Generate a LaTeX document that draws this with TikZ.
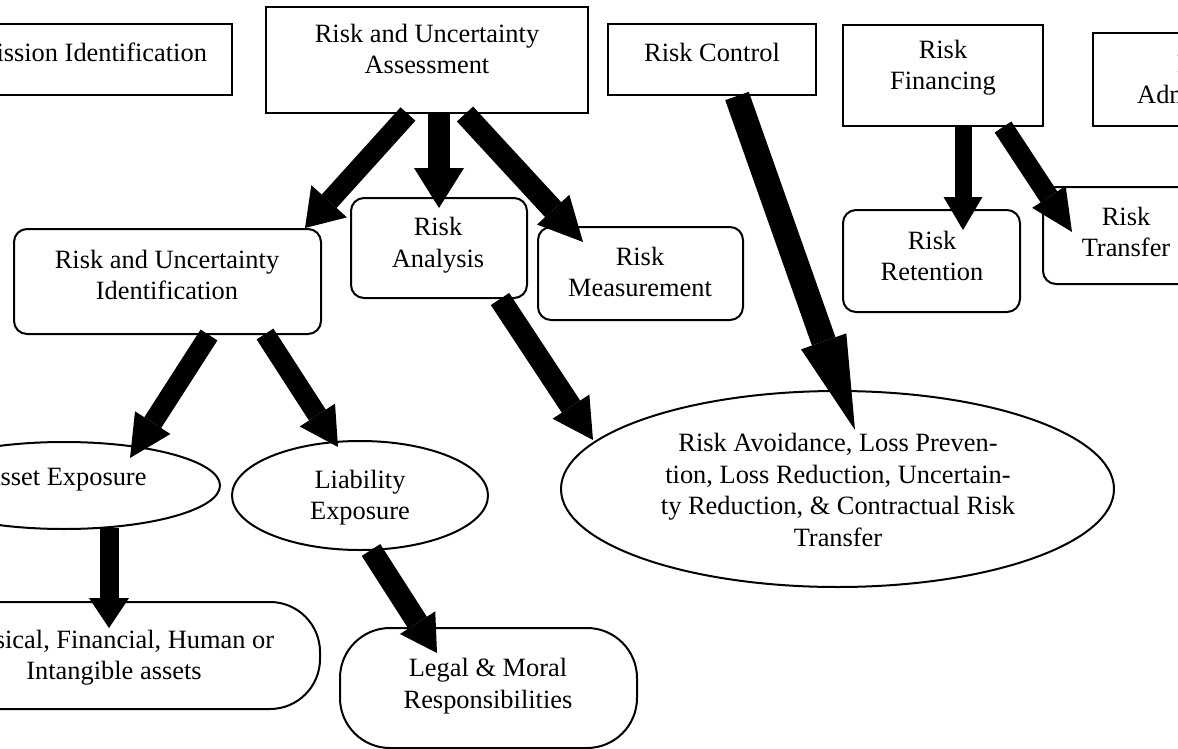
\documentclass[tikz,border=0pt]{standalone}
\usepackage{fontspec}
\setmainfont{Liberation Serif}
\usetikzlibrary{arrows.meta,calc,shapes.geometric}
\begin{document}
\begin{tikzpicture}[x=0.5pt,y=-0.5pt,
  rect/.style={draw,line width=1pt,inner sep=0pt,rectangle},
  rbox/.style={rect,rounded corners=6.5pt},
  pill/.style={rect,rounded corners=25pt},
  ell/.style={draw,line width=1pt,inner sep=0pt,ellipse},
  txt/.style={align=center,inner sep=0pt,font=\fontsize{13.2}{15.75}\selectfont},
  fat/.style n args={3}{line width=#1,arrows={-{Triangle[width=#2,length=#3,line width=0pt]}}}]
\useasboundingbox (0,0) rectangle (1178,749);
\clip (0,0) rectangle (1178,749);
\fill[white] (0,0) rectangle (1178,749);

% rectangles
\node[rect,minimum width=142pt,minimum height=35.5pt] (mission) at (90,59.5) {};
\node[txt] (missionT) at (90,52) {Mission Identification};
\node[rect,minimum width=161pt,minimum height=53pt] (assess) at (427,60) {};
\node[txt] (assessT) at (427,49) {Risk and Uncertainty\\Assessment};
\node[rect,minimum width=104pt,minimum height=35.5pt] (control) at (712,59.5) {};
\node[txt] (controlT) at (712,52) {Risk Control};
\node[rect,minimum width=100pt,minimum height=50.5pt] (financing) at (943,75.5) {};
\node[txt] (financingT) at (943,67.5) {Risk\\Financing};
\node[rect,minimum width=108pt,minimum height=46.5pt] (admin) at (1201,79.5) {};
\node[txt] (adminT) at (1201,94.5) {Risk\\Administra-\\tion};

% rounded boxes
\node[rbox,minimum width=153.5pt,minimum height=52.5pt] (ident) at (167.5,281.5) {};
\node[txt] (identT) at (167,275) {Risk and Uncertainty\\Identification};
\node[rbox,minimum width=88pt,minimum height=50pt] (analysis) at (439,248) {};
\node[txt] (analysisT) at (438,245) {Risk\\Analysis};
\node[rbox,minimum width=102.5pt,minimum height=46.5pt] (measure) at (640.5,273.5) {};
\node[txt] (measureT) at (640,272) {Risk\\Measurement};
\node[rbox,minimum width=88.5pt,minimum height=51pt] (retention) at (931.5,261) {};
\node[txt] (retentionT) at (932,256) {Risk\\Retention};
\node[rbox,minimum width=83pt,minimum height=48.5pt] (transfer) at (1126,235.5) {};
\node[txt] (transferT) at (1126,232) {Risk\\Transfer};

% pills
\node[pill,minimum width=206pt,minimum height=53.5pt] (physical) at (114,655.5) {};
\node[txt] (physicalT) at (114,657.5) {Physical, Financial, Human or\\Intangible assets};
\node[pill,minimum width=148.5pt,minimum height=60pt] (legal) at (488.5,688) {};
\node[txt] (legalT) at (488,686) {Legal \& Moral\\Responsibilities};

% ellipses
\node[ell,minimum width=156pt,minimum height=43.5pt] (asset) at (64,485.5) {};
\node[txt] (assetT) at (64,480) {Asset Exposure};
\node[ell,minimum width=128pt,minimum height=54.5pt] (liability) at (360,495.5) {};
\node[txt] (liabilityT) at (360,497.5) {Liability\\Exposure};
\node[ell,minimum width=276.5pt,minimum height=98pt] (avoid) at (837.5,489) {};
\node[txt] (avoidT) at (838,490) {Risk Avoidance, Loss Preven-\\tion, Loss Reduction, Uncertain-\\ty Reduction, \& Contractual Risk\\Transfer};

% arrow tips
\coordinate (t1) at (305,228);
\coordinate (t2) at (439,208);
\coordinate (t3) at (583,242);
\coordinate (t4) at (130,458);
\coordinate (t5) at (338,447);
\coordinate (t6) at (109,628);
\coordinate (t7) at (437,653);
\coordinate (t8) at (593,440);
\coordinate (t9) at (855,430);
\coordinate (t10) at (963,230);
\coordinate (t11) at (1072,232);

% arrows
\draw[fat={10pt}{24pt}{18pt}] ($(assess.south)+(-19,0)$) -- (t1);
\draw[fat={11pt}{25pt}{20pt}] ($(assess.south)+(12,0)$) -- (t2);
\draw[fat={11pt}{22pt}{22pt}] ($(assess.south)+(38,0)$) -- (t3);
\draw[fat={10pt}{21pt}{21pt}] ($(ident.south)+(41.5,0)$) -- (t4);
\draw[fat={10pt}{21pt}{19pt}] ($(ident.south)+(97.5,-1)$) -- (t5);
\draw[fat={9.5pt}{20pt}{15pt}] ($(asset.south)+(45,-2)$) -- (t6);
\draw[fat={11pt}{21pt}{18pt}] ($(liability.south)+(11,-1)$) -- (t7);
\draw[fat={11pt}{22pt}{20pt}] ($(analysis.south)+(61,0)$) -- (t8);
\draw[fat={12.5pt}{24pt}{47pt}] ($(control.south)+(25,0)$) -- (t9);
\draw[fat={8.5pt}{19.5pt}{16.5pt}] ($(financing.south)+(20,0)$) -- (t10);
\draw[fat={10pt}{20pt}{21pt}] ($(financing.south)+(60,0)$) -- (t11);
\end{tikzpicture}
\end{document}
